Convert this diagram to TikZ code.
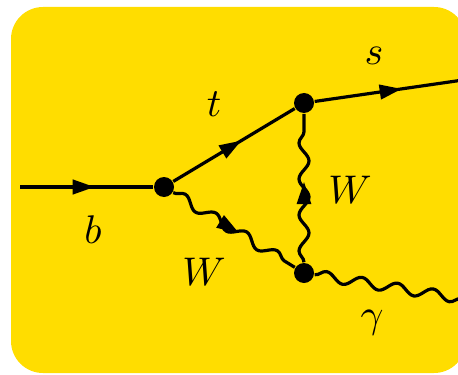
\documentclass[tikz,border=0pt]{standalone}
\usetikzlibrary{decorations.pathmorphing,decorations.markings,arrows.meta}
\definecolor{bgyellow}{RGB}{255,221,0}
\begin{document}
\begin{tikzpicture}[x=0.25pt,y=-0.25pt,
  vtx/.style={circle,fill=black,inner sep=0pt,minimum size=5pt},
  lbl/.style={inner sep=0pt},
  fermion/.style={line width=0.8pt,postaction={decorate},
    decoration={markings,mark=at position 0.56 with {\arrow{Triangle[length=5.5pt,width=3.6pt]}}}},
  photon/.style={line width=0.8pt,decorate,
    decoration={snake,segment length=9pt,amplitude=1.25pt}},
  midarrow/.style={postaction={decorate},
    decoration={markings,mark=at position 0.54 with {\arrow{Triangle[length=5.5pt,width=3.6pt]}}}}]
\useasboundingbox (0,0) rectangle (458,374);
\fill[bgyellow,rounded corners=8pt] (11,7) rectangle (466,373);
\coordinate (in) at (20,187);
\coordinate (sout) at (470,79);
\coordinate (gout) at (470,300);
\node[vtx] (v1) at (164,187) {};
\node[vtx] (v2) at (304,103) {};
\node[vtx] (v3) at (304,273) {};
\draw[fermion] (in) -- (v1);
\draw[fermion] (v1) -- (v2);
\draw[fermion] (v2) -- (sout);
\draw[photon] (v1) -- (v3);
\path[midarrow] (v1) -- (v3);
\draw[photon] (v3) -- (v2);
\path[midarrow] (v3) -- (v2);
\draw[photon] (v3) -- (gout);
\node[lbl] (lb) at (93,230) {$b$};
\node[lbl] (lt) at (214,104) {$t$};
\node[lbl] (ls) at (374,56) {$s$};
\node[lbl] (lw1) at (350,190) {$W$};
\node[lbl] (lw2) at (204,272) {$W$};
\node[lbl] (lg) at (372,323) {$\gamma$};
\end{tikzpicture}
\end{document}
